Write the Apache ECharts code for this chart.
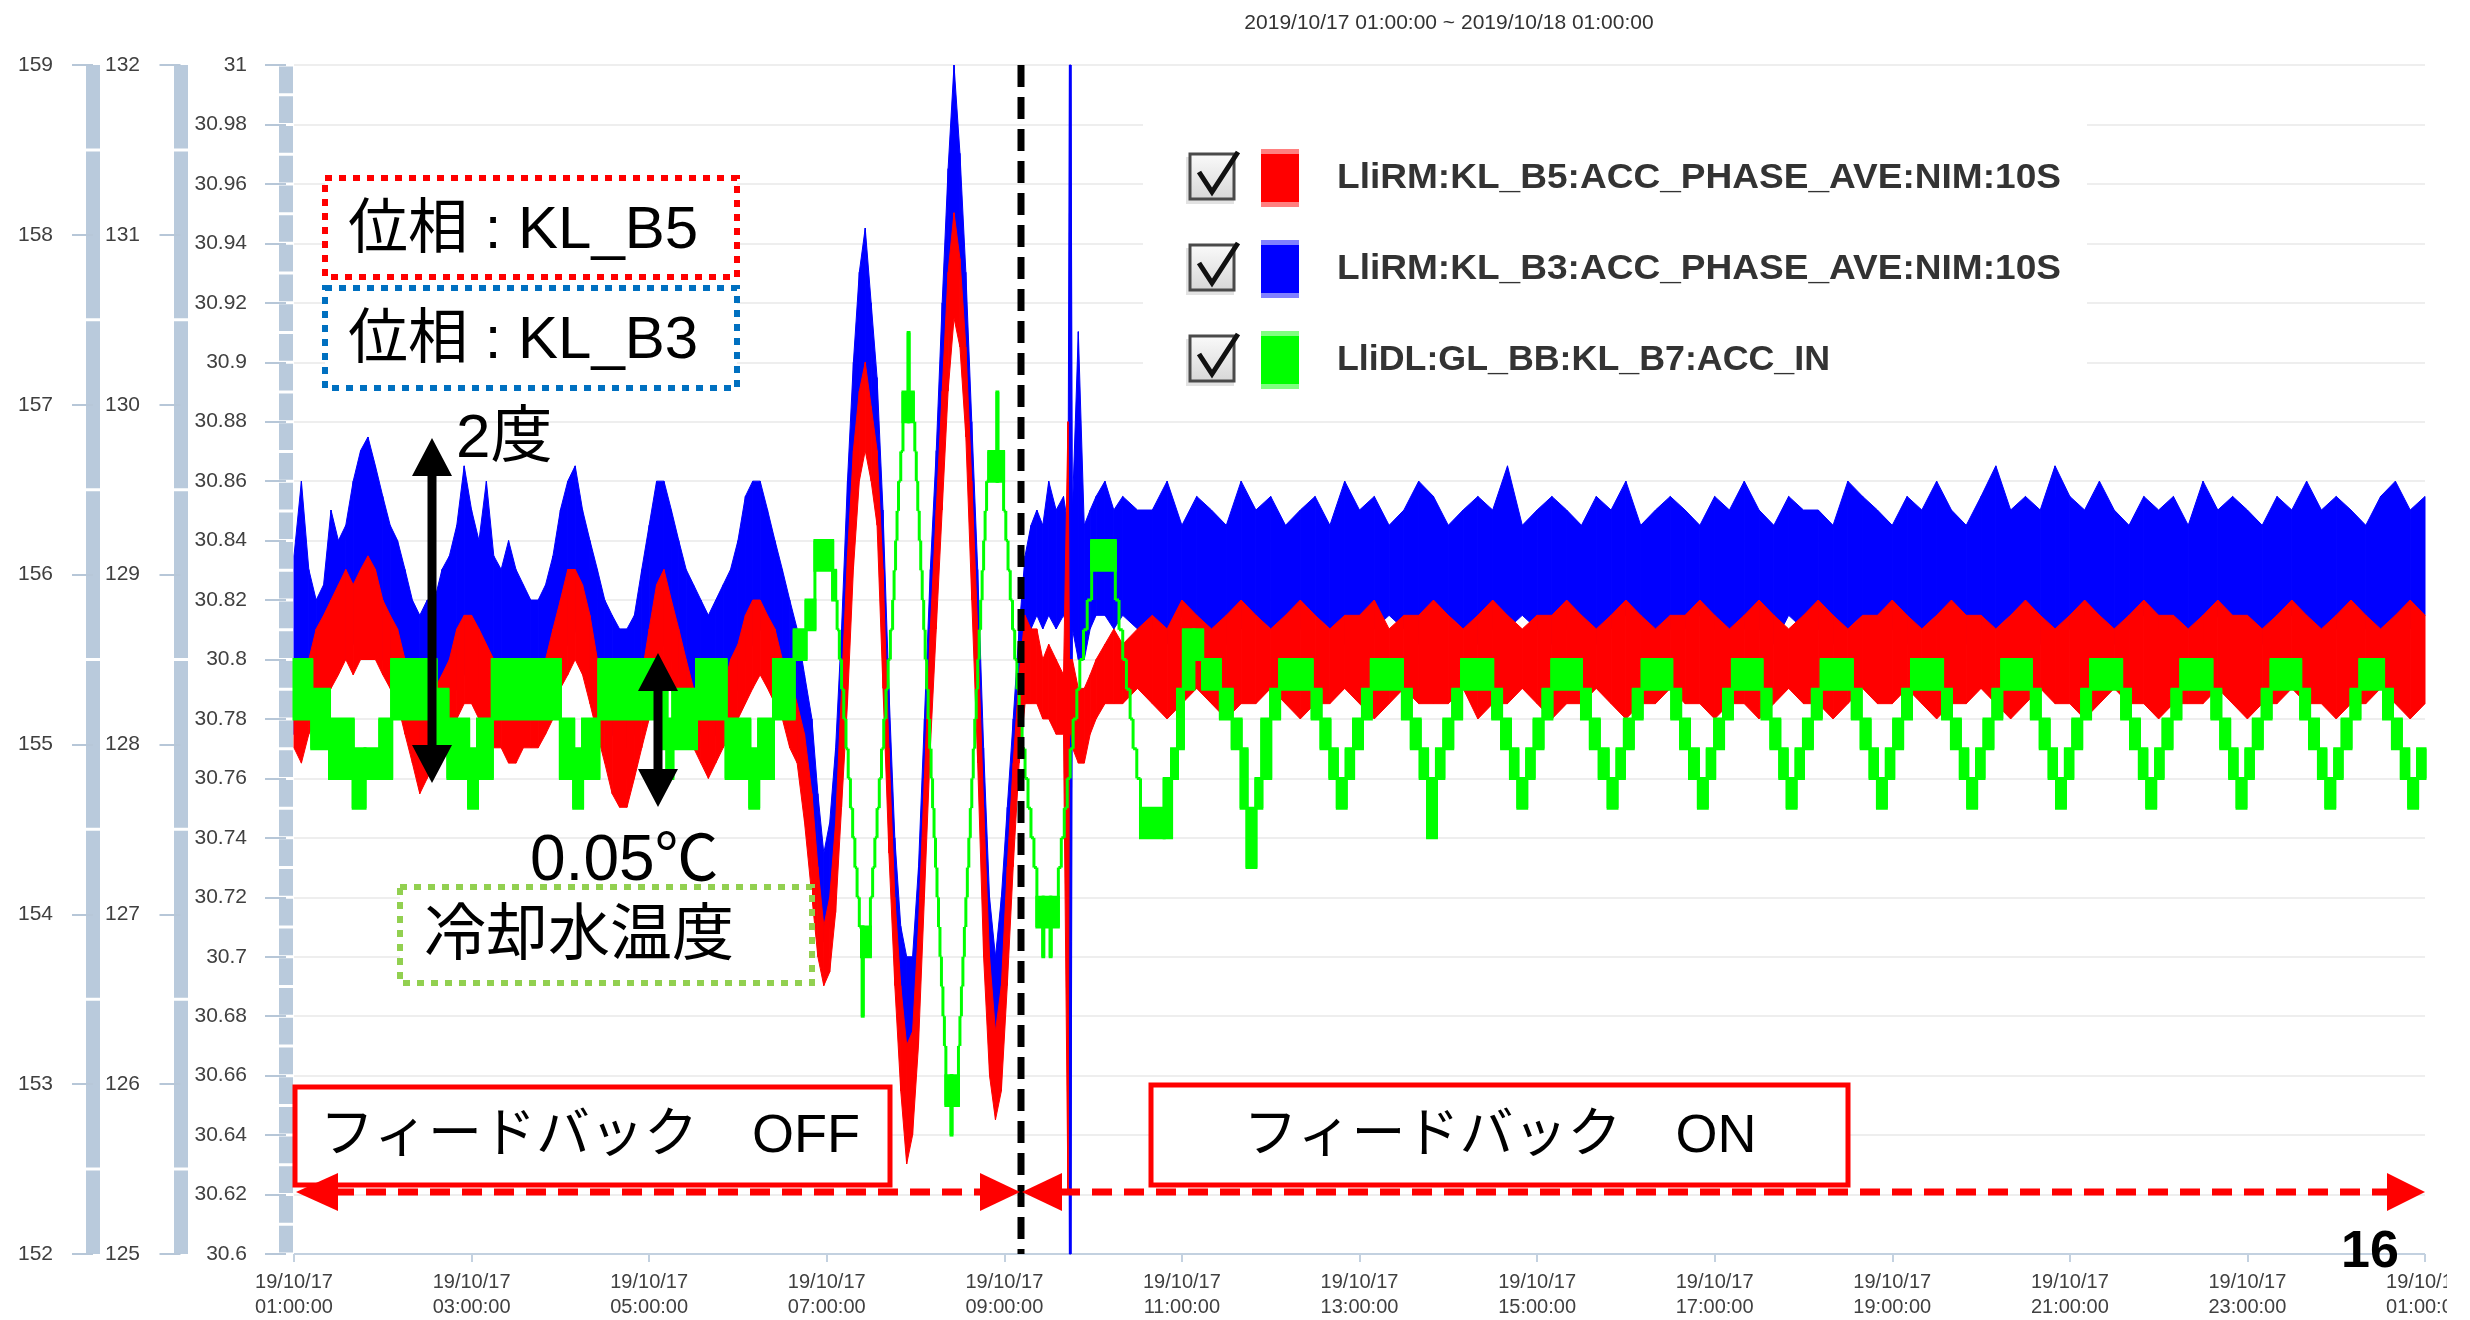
<!DOCTYPE html>
<html>
<head>
<meta charset="utf-8">
<script src="https://cdn.jsdelivr.net/npm/echarts@6/dist/echarts.min.js"></script>
<style>
html,body{margin:0;padding:0;background:#fff;}
#chart{width:2470px;height:1320px;}
</style>
</head>
<body>
<div id="chart"></div>
<script>
// ---------- text / tick labels ----------
const titleText = '2019/10/17 01:00:00 ~ 2019/10/18 01:00:00';
const xTickLabels = ['19/10/17\n01:00:00','19/10/17\n03:00:00','19/10/17\n05:00:00','19/10/17\n07:00:00','19/10/17\n09:00:00','19/10/17\n11:00:00','19/10/17\n13:00:00','19/10/17\n15:00:00','19/10/17\n17:00:00','19/10/17\n19:00:00','19/10/17\n21:00:00','19/10/17\n23:00:00','19/10/18\n01:00:00'];
const seriesNames = ['LliRM:KL_B5:ACC_PHASE_AVE:NIM:10S','LliRM:KL_B3:ACC_PHASE_AVE:NIM:10S','LliDL:GL_BB:KL_B7:ACC_IN'];

// ---------- phase data (time = minutes after 2019/10/17 01:00:00) ----------
// B5 phase (red, deg) and B3 phase (blue, deg): envelope low / high of the 10 s samples
const preT = [0,5,10,15,20,25,30,35,40,45, 50,55,60,65,70,75,80,85,90,95, 100,105,110,115,120,125,130,135,140,145, 150,155,160,165,170,175,180,185,190,195, 200,205,210,215,220,225,230,235,240,245, 250,255,260,265,270,275,280,285,290,295, 300,305,310,315,320,325,330,335];
const preBlueHi = [129.11,129.55,129.03,128.85,128.94,129.38,129.2,129.29,129.55,129.73, 129.81,129.64,129.46,129.29,129.2,129.03,128.85,128.76,128.85,128.85, 129.03,129.11,129.29,129.64,129.38,129.2,129.55,129.11,129.03,129.2, 129.03,128.94,128.85,128.85,128.94,129.11,129.38,129.55,129.64,129.38, 129.2,129.03,128.85,128.76,128.68,128.68,128.76,129.03,129.29,129.55, 129.55,129.38,129.2,129.03,128.94,128.85,128.76,128.85,128.94,129.03, 129.2,129.46,129.55,129.55,129.38,129.2,129.03,128.85];
const preBlueLo = [128.06,127.98,128.15,128.33,128.41,128.5,128.5,128.5,128.59,128.68, 128.68,128.59,128.5,128.41,128.33,128.24,128.06,127.98,127.98,128.06, 128.15,128.24,128.33,128.41,128.41,128.33,128.33,128.24,128.15,128.15, 128.15,128.15,128.15,128.15,128.24,128.33,128.5,128.59,128.68,128.5, 128.41,128.24,128.15,128.06,127.98,127.98,128.06,128.15,128.33,128.5, 128.59,128.5,128.41,128.24,128.15,128.06,127.98,128.06,128.15,128.24, 128.33,128.5,128.59,128.68,128.59,128.5,128.33,128.15];
const preRedHi = [155.5,155.33,155.5,155.68,155.76,155.85,155.94,156.03,155.94,156.03, 156.11,156.03,155.85,155.76,155.68,155.5,155.33,155.24,155.24,155.33, 155.41,155.5,155.68,155.76,155.76,155.68,155.59,155.5,155.41,155.41, 155.33,155.33,155.41,155.41,155.5,155.68,155.85,156.03,156.03,155.94, 155.76,155.5,155.33,155.24,155.15,155.15,155.24,155.41,155.68,155.94, 156.03,155.85,155.68,155.5,155.33,155.33,155.24,155.24,155.33,155.5, 155.59,155.76,155.85,155.85,155.76,155.68,155.5,155.41];
const preRedLo = [154.98,154.89,155.06,155.15,155.24,155.33,155.41,155.5,155.41,155.5, 155.5,155.5,155.41,155.33,155.24,155.06,154.89,154.71,154.8,154.89, 154.98,155.06,155.15,155.24,155.24,155.15,155.06,154.98,154.98,154.89, 154.89,154.98,154.98,154.98,155.06,155.15,155.33,155.41,155.5,155.41, 155.24,155.06,154.89,154.71,154.63,154.63,154.8,154.98,155.15,155.33, 155.41,155.33,155.15,155.06,154.98,154.89,154.8,154.89,154.98,155.06, 155.15,155.24,155.33,155.41,155.33,155.24,155.15,154.98];

const oscT = [340,345,350,354,358,362,366,370,374,378, 382,386,390,394,398,402,406,410,414,418, 422,426,430,434,438,442,446,450,454,458, 462,466,470,474,478,482,486,490,494,498];
const oscBlueHi = [128.68,128.41,128.15,127.71,127.36,127.54,127.98,128.68,129.55,130.25, 130.78,131.04,130.6,130.16,129.38,128.33,127.45,126.93,126.75,126.75, 127.28,128.15,129.03,129.73,130.6,131.39,132,131.48,130.78,129.9, 129.03,127.98,127.1,126.75,127.1,127.63,128.15,128.68,129.11,129.29];
const oscBlueLo = [127.98,127.71,127.36,127.1,126.84,126.93,127.28,127.8,128.5,129.38, 129.99,130.25,129.9,129.46,128.5,127.54,126.75,126.31,126.14,126.23, 126.58,127.45,128.33,129.03,129.73,130.43,130.95,130.78,130.08,129.2, 128.24,127.19,126.4,126.23,126.49,126.93,127.54,128.06,128.5,128.68];
const oscRedHi = [155.24,155.06,154.71,154.28,153.93,154.1,154.54,155.33,156.11,156.73, 157.08,157.25,156.99,156.73,156.03,154.98,154.1,153.58,153.23,153.31, 153.93,154.8,155.68,156.38,157.08,157.78,158.13,157.86,157.34,156.55, 155.68,154.63,153.75,153.31,153.58,154.28,154.89,155.41,155.76,155.68];
const oscRedLo = [154.89,154.54,154.1,153.75,153.58,153.66,154.01,154.63,155.24,156.03, 156.55,156.73,156.55,156.29,155.33,154.36,153.58,152.96,152.53,152.7, 153.23,154.1,154.98,155.68,156.38,157.08,157.51,157.34,156.81,155.85, 154.89,153.75,153.05,152.79,152.96,153.58,154.28,154.89,155.24,155.24];

const transT = [502,506,510,515,520,523,524,525,526,530,534,538,542,548,554,560,570];
const transBlueHi = [129.38,129.29,129.55,129.38,129.46,129.29,132,132,129.38,130.43,129.29,129.38,129.46,129.55,129.38,129.46,129.38];
const transBlueLo = [128.76,128.68,128.76,128.68,128.76,128.68,125,125,128.68,128.5,128.5,128.68,128.76,128.76,128.68,128.76,128.68];
const transRedHi = [155.68,155.5,155.59,155.5,155.41,156.9,155.5,155.5,155.5,155.33,155.33,155.41,155.5,155.59,155.68,155.59,155.68];
const transRedLo = [155.24,155.15,155.15,155.06,155.06,152.35,155.06,155.06,154.98,154.89,154.89,155.06,155.15,155.24,155.24,155.24,155.33];

const postT = [580,590,600,610,620,630,640,650,660,670, 680,690,700,710,720,730,740,750,760,770, 780,790,800,810,820,830,840,850,860,870, 880,890,900,910,920,930,940,950,960,970, 980,990,1000,1010,1020,1030,1040,1050,1060,1070, 1080,1090,1100,1110,1120,1130,1140,1150,1160,1170, 1180,1190,1200,1210,1220,1230,1240,1250,1260,1270, 1280,1290,1300,1310,1320,1330,1340,1350,1360,1370, 1380,1390,1400,1410,1420,1430,1440];
const postBlueHi = [129.38,129.55,129.29,129.46,129.38,129.29,129.55,129.38,129.46,129.29, 129.38,129.46,129.29,129.55,129.38,129.46,129.29,129.38,129.55,129.46, 129.29,129.38,129.46,129.38,129.64,129.29,129.38,129.46,129.38,129.29, 129.46,129.38,129.55,129.29,129.38,129.46,129.38,129.29,129.46,129.38, 129.55,129.38,129.29,129.46,129.38,129.38,129.29,129.55,129.46,129.38, 129.29,129.46,129.38,129.55,129.38,129.29,129.46,129.64,129.38,129.46, 129.38,129.64,129.46,129.38,129.55,129.38,129.29,129.46,129.38,129.46, 129.29,129.55,129.38,129.46,129.38,129.29,129.46,129.38,129.55,129.38, 129.46,129.38,129.29,129.46,129.55,129.38,129.46];
const postBlueLo = [128.68,128.59,128.76,128.68,128.68,128.59,128.68,128.76,128.68,128.59, 128.68,128.76,128.68,128.59,128.68,128.68,128.76,128.68,128.59,128.68, 128.76,128.68,128.59,128.68,128.68,128.76,128.68,128.59,128.68,128.68, 128.59,128.68,128.76,128.68,128.59,128.68,128.68,128.76,128.68,128.59, 128.68,128.68,128.59,128.76,128.68,128.68,128.59,128.68,128.76,128.68, 128.68,128.59,128.68,128.76,128.68,128.59,128.68,128.68,128.76,128.68, 128.59,128.68,128.68,128.76,128.68,128.59,128.68,128.76,128.68,128.68, 128.68,128.59,128.76,128.68,128.68,128.59,128.68,128.76,128.68,128.59, 128.68,128.76,128.68,128.59,128.68,128.68,128.76];
const postRedHi = [155.76,155.68,155.85,155.76,155.68,155.76,155.85,155.76,155.68,155.76, 155.85,155.76,155.68,155.76,155.76,155.85,155.68,155.76,155.76,155.85, 155.76,155.68,155.76,155.85,155.76,155.68,155.76,155.76,155.85,155.76, 155.68,155.76,155.85,155.76,155.68,155.76,155.76,155.85,155.76,155.68, 155.76,155.85,155.76,155.68,155.76,155.85,155.76,155.68,155.76,155.76, 155.85,155.76,155.68,155.76,155.85,155.76,155.76,155.68,155.76,155.85, 155.76,155.68,155.76,155.85,155.76,155.68,155.76,155.85,155.76,155.76, 155.68,155.76,155.85,155.76,155.76,155.68,155.76,155.85,155.76,155.68, 155.76,155.85,155.76,155.68,155.76,155.85,155.76];
const postRedLo = [155.24,155.15,155.24,155.33,155.24,155.15,155.24,155.24,155.33,155.24, 155.15,155.24,155.24,155.33,155.24,155.15,155.24,155.33,155.24,155.24, 155.24,155.33,155.15,155.24,155.24,155.33,155.24,155.15,155.24,155.24, 155.33,155.24,155.15,155.24,155.24,155.33,155.24,155.24,155.15,155.24, 155.24,155.15,155.24,155.33,155.24,155.24,155.15,155.24,155.33,155.24, 155.24,155.33,155.24,155.15,155.24,155.24,155.33,155.24,155.15,155.24, 155.33,155.24,155.24,155.15,155.24,155.33,155.24,155.24,155.15,155.24, 155.24,155.24,155.33,155.24,155.15,155.24,155.24,155.33,155.24,155.24, 155.15,155.24,155.24,155.33,155.24,155.15,155.24];

// ---------- cooling water temperature (green, deg C): level segments start time / low / high ----------
const greenPreT = [0,12,24,40,48,58,66,96,104,118,124,134,180,189,195,206,246,252,256,272,292,308,314,324,338,346,352,364];
const greenPreLo = [30.78,30.77,30.76,30.75,30.76,30.76,30.78,30.77,30.76,30.75,30.76,30.78,30.76,30.75,30.76,30.78,30.77,30.76,30.77,30.78,30.76,30.75,30.76,30.78,30.80,30.81,30.83,30.82];
const greenPreHi = [30.80,30.79,30.78,30.77,30.77,30.78,30.80,30.79,30.78,30.77,30.78,30.80,30.78,30.77,30.78,30.80,30.79,30.78,30.79,30.80,30.78,30.77,30.78,30.80,30.81,30.82,30.84,30.83];

const greenOscT = [366,367,368.5,370,371.5,373,374.5,376,377.5,379, 380.5,382,383.5,384,384.6,389.5,391,392.5,394,395.5, 397,398.5,400,401.5,403,404.5,405.5,406.5,407.5,408.5, 410,411.5,415,415.6,418.5,419.5,420.5,421.5,422.5,423.5, 424.5,425.5,426.5,427.5,428.5,429.5,430.5,431.5,432.5,433.5, 434.5,435.5,436.5,437.5,438.5,439.5,440.5,444,444.6,449, 450,451,452,453,454,455,456,457,458,459, 460,461,462,463,464,465,466,467,468,469.5, 475,475.6,479.5,481,482.5,484,485.5,487,488.5,490, 492,494,496,498,500,502,506,506.6,511,511.6, 516.5,518.5,520.5,522.5,524.5,526.5,529,531,533.5,536, 539,555,557.5,560,562.5,565,567,569.5,572];
const greenOscLo = [30.82,30.81,30.80,30.79,30.78,30.77,30.76,30.75,30.74,30.73, 30.72,30.71,30.70,30.68,30.70,30.72,30.73,30.74,30.75,30.76, 30.77,30.78,30.79,30.80,30.81,30.82,30.83,30.84,30.85,30.86, 30.87,30.88,30.88,30.88,30.88,30.87,30.86,30.85,30.84,30.83, 30.82,30.81,30.80,30.79,30.78,30.77,30.76,30.75,30.74,30.73, 30.72,30.71,30.70,30.69,30.68,30.67,30.65,30.64,30.65,30.67, 30.68,30.69,30.70,30.71,30.72,30.73,30.74,30.75,30.76,30.77, 30.78,30.79,30.80,30.81,30.82,30.83,30.84,30.85,30.86,30.86, 30.86,30.86,30.85,30.84,30.83,30.82,30.81,30.80,30.79,30.78, 30.77,30.76,30.75,30.74,30.73,30.71,30.70,30.71,30.70,30.71, 30.73,30.74,30.75,30.76,30.77,30.78,30.79,30.80,30.81,30.82, 30.83,30.82,30.81,30.80,30.79,30.78,30.77,30.76,30.74];
const greenOscHi = [30.82,30.81,30.80,30.79,30.78,30.77,30.76,30.75,30.74,30.73, 30.72,30.71,30.71,30.71,30.71,30.72,30.73,30.74,30.75,30.76, 30.77,30.78,30.79,30.80,30.81,30.82,30.83,30.84,30.85,30.86, 30.87,30.89,30.91,30.89,30.88,30.87,30.86,30.85,30.84,30.83, 30.82,30.81,30.80,30.79,30.78,30.77,30.76,30.75,30.74,30.73, 30.72,30.71,30.70,30.69,30.68,30.67,30.66,30.66,30.66,30.67, 30.68,30.69,30.70,30.71,30.72,30.73,30.74,30.75,30.76,30.77, 30.78,30.79,30.80,30.81,30.82,30.83,30.84,30.85,30.86,30.87, 30.89,30.87,30.85,30.84,30.83,30.82,30.81,30.80,30.79,30.78, 30.77,30.76,30.75,30.74,30.73,30.72,30.72,30.72,30.72,30.72, 30.73,30.74,30.75,30.76,30.77,30.78,30.79,30.80,30.81,30.82, 30.84,30.82,30.81,30.80,30.79,30.78,30.77,30.76,30.75];

const greenPostT = [588,593,597,601,608,614,626,634,640,644,650,654,660,666, 688,694,700,705,711,716,722,728, 749,755,761,766,772,777,783,789, 810,816,822,827,833,838,844,850, 870,876,882,888,894,899,905,911, 931,937,943,949,955,960,966,972, 992,998,1004,1009,1015,1020,1026,1032, 1053,1059,1065,1070,1076,1081,1087,1093, 1114,1120,1126,1131,1137,1142,1148,1154, 1174,1180,1186,1191,1197,1202,1208,1214, 1235,1241,1247,1252,1258,1263,1269,1275, 1296,1302,1308,1313,1319,1324,1330,1336, 1356,1362,1368,1373,1379,1384,1390,1396, 1412,1418,1424,1429,1435,1440];
const greenPostLo = [30.74,30.76,30.77,30.79,30.80,30.79,30.78,30.77,30.75,30.73,30.75,30.76,30.78,30.79, 30.78,30.77,30.76,30.75,30.76,30.77,30.78,30.79, 30.78,30.77,30.76,30.74,30.76,30.77,30.78,30.79, 30.78,30.77,30.76,30.75,30.76,30.77,30.78,30.79, 30.78,30.77,30.76,30.75,30.76,30.77,30.78,30.79, 30.78,30.77,30.76,30.75,30.76,30.77,30.78,30.79, 30.78,30.77,30.76,30.75,30.76,30.77,30.78,30.79, 30.78,30.77,30.76,30.75,30.76,30.77,30.78,30.79, 30.78,30.77,30.76,30.75,30.76,30.77,30.78,30.79, 30.78,30.77,30.76,30.75,30.76,30.77,30.78,30.79, 30.78,30.77,30.76,30.75,30.76,30.77,30.78,30.79, 30.78,30.77,30.76,30.75,30.76,30.77,30.78,30.79, 30.78,30.77,30.76,30.75,30.76,30.77,30.78,30.79, 30.78,30.77,30.76,30.75,30.76,30.76];
const greenPostHi = [30.76,30.77,30.79,30.81,30.81,30.80,30.79,30.78,30.77,30.75,30.76,30.78,30.79,30.80, 30.79,30.78,30.77,30.76,30.77,30.78,30.79,30.80, 30.79,30.78,30.77,30.76,30.77,30.78,30.79,30.80, 30.79,30.78,30.77,30.76,30.77,30.78,30.79,30.80, 30.79,30.78,30.77,30.76,30.77,30.78,30.79,30.80, 30.79,30.78,30.77,30.76,30.77,30.78,30.79,30.80, 30.79,30.78,30.77,30.76,30.77,30.78,30.79,30.80, 30.79,30.78,30.77,30.76,30.77,30.78,30.79,30.80, 30.79,30.78,30.77,30.76,30.77,30.78,30.79,30.80, 30.79,30.78,30.77,30.76,30.77,30.78,30.79,30.80, 30.79,30.78,30.77,30.76,30.77,30.78,30.79,30.80, 30.79,30.78,30.77,30.76,30.77,30.78,30.79,30.80, 30.79,30.78,30.77,30.76,30.77,30.78,30.79,30.80, 30.79,30.78,30.77,30.76,30.77,30.77];

// ---------- assemble ----------
const phaseT = preT.concat(oscT, transT, postT);
const blueHi = preBlueHi.concat(oscBlueHi, transBlueHi, postBlueHi);
const blueLo = preBlueLo.concat(oscBlueLo, transBlueLo, postBlueLo);
const redHi = preRedHi.concat(oscRedHi, transRedHi, postRedHi);
const redLo = preRedLo.concat(oscRedLo, transRedLo, postRedLo);
const greenT = greenPreT.concat(greenOscT, greenPostT);
const greenLo = greenPreLo.concat(greenOscLo, greenPostLo);
const greenHi = greenPreHi.concat(greenOscHi, greenPostHi);

function segData(T, LO, HI) {
  const d = [];
  const n = Math.min(T.length, LO.length, HI.length);
  for (let i = 0; i < n - 1; i++) d.push([T[i], LO[i], HI[i], T[i + 1], LO[i + 1], HI[i + 1]]);
  return d;
}
function renderBand(color, vmin, vmax) {
  return function (params, api) {
    const c = v => Math.max(vmin, Math.min(vmax, v));
    const a = api.coord([api.value(0), c(api.value(2))]);
    const b = api.coord([api.value(3), c(api.value(5))]);
    const e = api.coord([api.value(3), c(api.value(4))]);
    const f = api.coord([api.value(0), c(api.value(1))]);
    return { type: 'polygon', shape: { points: [a, b, e, f] }, style: { fill: color, stroke: color, lineWidth: 1 } };
  };
}
function renderStep(color) {
  return function (params, api) {
    const t0 = api.value(0), lo = api.value(1), hi = api.value(2), t1 = api.value(3), lo1 = api.value(4), hi1 = api.value(5);
    const p0 = api.coord([t0, hi]), p1 = api.coord([t1, lo]);
    const q0 = api.coord([t1, Math.max(hi, hi1)]), q1 = api.coord([t1, Math.min(lo, lo1)]);
    return { type: 'group', children: [
      { type: 'rect', shape: { x: p0[0], y: p0[1], width: p1[0] - p0[0], height: p1[1] - p0[1] }, style: { fill: color, stroke: color, lineWidth: 3 } },
      { type: 'line', shape: { x1: q0[0], y1: q0[1], x2: q1[0], y2: q1[1] }, style: { stroke: color, lineWidth: 3 } }
    ] };
  };
}

// ---------- styling ----------
const BAR = '#b9cadc';
const TICK = '#b7c7d8';
const LABEL = '#404040';
function yAxisCfg(min, max, interval, offset, dash, dashOffset, margin, split) {
  return {
    type: 'value', position: 'left', min, max, interval, offset,
    axisLine: { show: true, onZero: false, lineStyle: { color: BAR, width: 14, type: dash, dashOffset, cap: 'butt' } },
    axisTick: { show: true, length: 21, lineStyle: { color: TICK, width: 2 } },
    axisLabel: { margin, color: LABEL, fontSize: 21, fontFamily: 'Liberation Sans', formatter: v => String(parseFloat(v.toFixed(2))) },
    splitLine: { show: split, lineStyle: { color: '#e8e8e8', width: 1.5 } }
  };
}

const mctx = document.createElement('canvas').getContext('2d');
function fitScale(text, font, target) { mctx.font = font; return target / mctx.measureText(text).width; }

const LFONT = 'bold 35px "Liberation Sans"';
const legendColors = [['#ff0000', '#ff8080'], ['#0000ff', '#8080ff'], ['#00ff00', '#80ff80']];
const legendWidths = [724, 724, 493];
const graphics = [];
graphics.push({ type: 'rect', z: 50, shape: { x: 1143, y: 92, width: 944, height: 313 }, style: { fill: '#fff' } });
for (let i = 0; i < 3; i++) {
  const cy = 178 + i * 91;
  graphics.push({ type: 'rect', z: 60, shape: { x: 1186, y: cy - 21, width: 48, height: 47 }, style: { fill: '#e2e2e2' } });
  graphics.push({ type: 'rect', z: 61, shape: { x: 1190, y: cy - 24, width: 44, height: 45 },
    style: { fill: new echarts.graphic.LinearGradient(0, 0, 0, 1, [{ offset: 0, color: '#fbfbfb' }, { offset: 1, color: '#d6d6d6' }]), stroke: '#4a4a4a', lineWidth: 3 } });
  graphics.push({ type: 'polyline', z: 62, shape: { points: [[1199, cy - 6], [1212, cy + 14], [1238, cy - 26]] }, style: { stroke: '#111', lineWidth: 5, fill: null } });
  graphics.push({ type: 'rect', z: 61, shape: { x: 1261, y: cy - 29, width: 38, height: 58 }, style: { fill: legendColors[i][0] } });
  graphics.push({ type: 'rect', z: 62, shape: { x: 1261, y: cy - 29, width: 38, height: 5 }, style: { fill: legendColors[i][1] } });
  graphics.push({ type: 'rect', z: 62, shape: { x: 1261, y: cy + 24, width: 38, height: 5 }, style: { fill: legendColors[i][1] } });
  graphics.push({ type: 'text', z: 62, x: 1337, y: cy, scaleX: fitScale(seriesNames[i], LFONT, legendWidths[i]),
    style: { text: seriesNames[i], x: 0, y: 0, font: LFONT, fill: '#333', verticalAlign: 'middle', textVerticalAlign: 'middle' } });
}
// title
graphics.push({ type: 'text', z: 100, style: { text: titleText, x: 1449, y: 23, font: '21px "Liberation Sans"', fill: '#333', align: 'center', textAlign: 'center', verticalAlign: 'middle', textVerticalAlign: 'middle' } });

// annotations
const JP = '"Liberation Sans","Noto Sans CJK JP"';
function txt(text, x, y, size, align, weight) {
  return { type: 'text', z: 120, style: { text, x, y, font: (weight || 'normal') + ' ' + size + 'px ' + JP, fill: '#000', align: align || 'left', textAlign: align || 'left', verticalAlign: 'middle', textVerticalAlign: 'middle' } };
}
function dotBox(x, y, w, h, color) {
  return { type: 'rect', z: 110, shape: { x, y, width: w, height: h }, style: { fill: '#fff', stroke: color, lineWidth: 6, lineDash: [7, 7] } };
}
function vArrow(x, y1, y2) {
  const hw = 20, hl = 38, sw = 4.5;
  return { type: 'polygon', z: 120, shape: { points: [[x, y1], [x + hw, y1 + hl], [x + sw, y1 + hl], [x + sw, y2 - hl], [x + hw, y2 - hl], [x, y2], [x - hw, y2 - hl], [x - sw, y2 - hl], [x - sw, y1 + hl], [x - hw, y1 + hl]] }, style: { fill: '#000' } };
}
function tri(tipX, y, baseX) {
  return { type: 'polygon', z: 120, shape: { points: [[tipX, y], [baseX, y - 19], [baseX, y + 19]] }, style: { fill: '#ff0000' } };
}
graphics.push(dotBox(325, 178, 412, 99, '#ff0000'));
graphics.push(txt('位相 : KL_B5', 348, 231, 60));
graphics.push(dotBox(325, 288, 412, 100, '#0070c0'));
graphics.push(txt('位相 : KL_B3', 348, 341, 60));
graphics.push(txt('2度', 456, 440, 62));
graphics.push(vArrow(432, 438, 783));
graphics.push(vArrow(658, 653, 807));
graphics.push(txt('0.05℃', 530, 862, 64));
graphics.push(dotBox(400, 887, 412, 96, '#92d050'));
graphics.push(txt('冷却水温度', 424, 938, 62));
graphics.push({ type: 'rect', z: 110, shape: { x: 295, y: 1087, width: 595, height: 98 }, style: { fill: '#fff', stroke: '#ff0000', lineWidth: 5 } });
graphics.push(txt('フィードバック　OFF', 590, 1137, 54, 'center'));
graphics.push({ type: 'rect', z: 110, shape: { x: 1151, y: 1085, width: 697, height: 100 }, style: { fill: '#fff', stroke: '#ff0000', lineWidth: 5 } });
graphics.push(txt('フィードバック　ON', 1500, 1137, 54, 'center'));
graphics.push({ type: 'line', z: 115, shape: { x1: 334, y1: 1192, x2: 984, y2: 1192 }, style: { stroke: '#ff0000', lineWidth: 7, lineDash: [20, 12] } });
graphics.push(tri(296, 1192, 338));
graphics.push(tri(1020, 1192, 980));
graphics.push({ type: 'line', z: 115, shape: { x1: 1060, y1: 1192, x2: 2390, y2: 1192 }, style: { stroke: '#ff0000', lineWidth: 7, lineDash: [20, 12] } });
graphics.push(tri(1022, 1192, 1062));
graphics.push(tri(2425, 1192, 2387));
graphics.push({ type: 'line', z: 118, shape: { x1: 1021, y1: 65, x2: 1021, y2: 1254 }, style: { stroke: '#000', lineWidth: 7, lineDash: [22, 10] } });
graphics.push({ type: 'text', z: 120, style: { text: '16', x: 2370, y: 1253, font: 'bold 52px "Liberation Sans"', fill: '#000', align: 'center', textAlign: 'center', verticalAlign: 'middle', textVerticalAlign: 'middle' } });
graphics.push({ type: 'rect', z: 130, shape: { x: 2447, y: 1264, width: 23, height: 56 }, style: { fill: '#fff' } });

const option = {
  animation: false,
  backgroundColor: '#fff',
  grid: { left: 294, right: 45, top: 65, bottom: 66, containLabel: false },
  xAxis: {
    type: 'value', min: 0, max: 1440, interval: 120,
    axisLine: { onZero: false, lineStyle: { color: '#c3d1e0', width: 2, cap: 'butt' } },
    axisTick: { length: 8, lineStyle: { color: '#c3d1e0', width: 2 } },
    axisLabel: { formatter: v => xTickLabels[Math.round(v / 120)], fontSize: 20, lineHeight: 25, margin: 16, color: LABEL, fontFamily: 'Liberation Sans' },
    splitLine: { show: false }
  },
  yAxis: [
    yAxisCfg(152, 159, 1, 201, [166.86, 3], 83.43, 40, false),
    yAxisCfg(125, 132, 1, 113.5, [166.86, 3], 83.43, 40.5, false),
    yAxisCfg(30.6, 31, 0.02, 8, [26.725, 3], -1.5, 39, true)
  ],
  series: [
    { type: 'custom', name: seriesNames[1], yAxisIndex: 1, silent: true, data: segData(phaseT, blueLo, blueHi), encode: { x: [0, 3], y: [1, 2, 4, 5] }, renderItem: renderBand('#0000ff', 125, 132) },
    { type: 'custom', name: seriesNames[0], yAxisIndex: 0, silent: true, data: segData(phaseT, redLo, redHi), encode: { x: [0, 3], y: [1, 2, 4, 5] }, renderItem: renderBand('#ff0000', 152, 159) },
    { type: 'custom', name: seriesNames[2], yAxisIndex: 2, silent: true, data: segData(greenT, greenLo, greenHi), encode: { x: [0, 3], y: [1, 2, 4, 5] }, renderItem: renderStep('#00ff00') }
  ],
  graphic: { elements: graphics }
};
const chart = echarts.init(document.getElementById('chart'), null, { renderer: 'canvas' });
chart.setOption(option);
</script>
</body>
</html>
